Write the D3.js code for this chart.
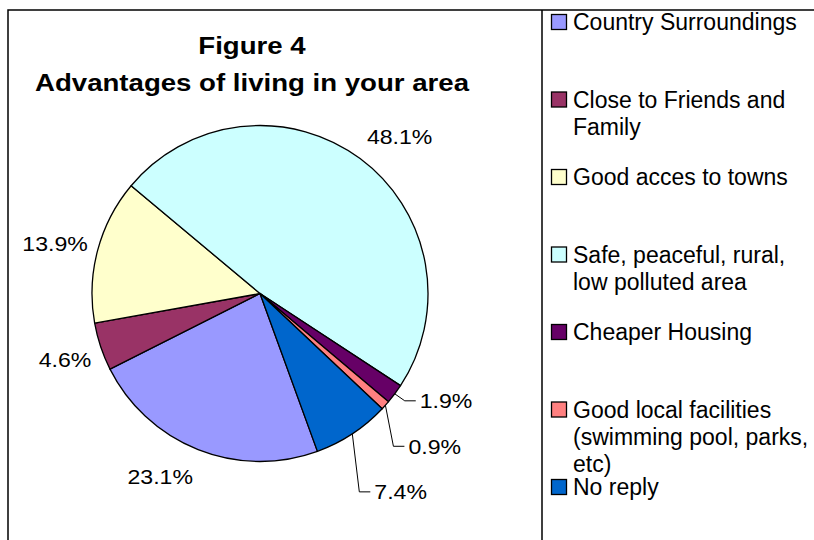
<!DOCTYPE html>
<html>
<head>
<meta charset="utf-8">
<script src="https://d3js.org/d3.v7.min.js"></script>
<style>
  body { margin: 0; background: #fff; }
  svg { display: block; font-family: "Liberation Sans", Arial, Helvetica, sans-serif; }
</style>
</head>
<body>
<div id="chart"></div>
<script>
// data
var categories = [
  "Country Surroundings",
  "Close to Friends and Family",
  "Good acces to towns",
  "Safe, peaceful, rural, low polluted area",
  "Cheaper Housing",
  "Good local facilities (swimming pool, parks, etc)",
  "No reply"
];
var values = [23.1, 4.6, 13.9, 48.1, 1.9, 0.9, 7.4];
var colors = ["#9999ff", "#993366", "#ffffcc", "#ccffff", "#660066", "#ff8080", "#0066cc"];
// how the legend wraps each entry
var legendLines = [
  ["Country Surroundings"],
  ["Close to Friends and", "Family"],
  ["Good acces to towns"],
  ["Safe, peaceful, rural,", "low polluted area"],
  ["Cheaper Housing"],
  ["Good local facilities", "(swimming pool, parks,", "etc)"],
  ["No reply"]
];
var titleLines = ["Figure 4", "Advantages of living in your area"];

// labels that were dragged away from the pie get a leader line (offset from slice edge)
var leaderOffset = {
  "Cheaper Housing": [25, 7],
  "Good local facilities (swimming pool, parks, etc)": [23, 41],
  "No reply": [22, 58]
};
// small manual tweaks on the other labels
var labelNudge = {
  "Country Surroundings": [-19, -1],
  "Close to Friends and Family": [7, 3],
  "Good acces to towns": [7, 1],
  "Safe, peaceful, rural, low polluted area": [9, 2]
};

var width = 814, height = 540,
    cx = 260, cy = 293.5, radius = 168;

var svg = d3.select("#chart").append("svg")
    .attr("width", width)
    .attr("height", height);

// frame lines
svg.append("path")
    .attr("d", "M8,540V10H814M542,10V540")
    .attr("fill", "none")
    .attr("stroke", "#000")
    .attr("stroke-width", 1.5);

// stretched text helper (the original fonts are wider than Liberation)
function stretchText(parent, x, y, str, size, sx, anchor, weight) {
  var g = parent.append("g").attr("transform", "translate(" + x + "," + y + ")");
  g.append("text")
      .attr("transform", "scale(" + sx + ",1)")
      .attr("text-anchor", anchor)
      .attr("font-size", size)
      .attr("font-weight", weight || "normal")
      .attr("fill", "#000")
      .text(str);
  return g;
}

// title
titleLines.forEach(function(t, i) {
  stretchText(svg, 252, 54 + i * 37, t, 24, 1.15, "middle", "bold");
});

var data = categories.map(function(c, i) { return { name: c, value: values[i], color: colors[i] }; });

var start = 160 * Math.PI / 180;
var pie = d3.pie()
    .sort(null)
    .value(function(d) { return d.value; })
    .startAngle(start)
    .endAngle(start + 2 * Math.PI);

var arc = d3.arc().innerRadius(0).outerRadius(radius);
var edgeArc = d3.arc().innerRadius(radius).outerRadius(radius);

var arcs = pie(data);

var g = svg.append("g").attr("transform", "translate(" + cx + "," + cy + ")");

g.selectAll("path.slice")
    .data(arcs)
  .enter().append("path")
    .attr("class", "slice")
    .attr("d", arc)
    .attr("fill", function(d) { return d.data.color; })
    .attr("stroke", "#000")
    .attr("stroke-width", 1.3)
    .attr("stroke-linejoin", "round");

// data labels
var labelFont = 21, labelSx = 1.1;
arcs.forEach(function(d) {
  var txt = d3.format(".1f")(d.data.value) + "%";
  var mid = (d.startAngle + d.endAngle) / 2;
  var off = leaderOffset[d.data.name];
  if (off) {
    var e = edgeArc.centroid(d);
    var lx = e[0] + off[0], ly = e[1] + off[1];
    g.append("path")
        .attr("d", "M" + e[0] + "," + e[1] + "L" + (lx - 15) + "," + ly + "H" + (lx - 4))
        .attr("fill", "none")
        .attr("stroke", "#000")
        .attr("stroke-width", 1);
    stretchText(g, lx, ly + 7.5, txt, labelFont, labelSx, "start");
  } else {
    // excel style: anchor just outside the rim, box pushed outward
    var r = radius + 20;
    var px = Math.sin(mid) * r, py = -Math.cos(mid) * r;
    var w = txt.length * 12.5;
    var nudge = labelNudge[d.data.name] || [0, 0];
    var lx2 = px + Math.sin(mid) * w / 2 + nudge[0],
        ly2 = py - Math.cos(mid) * 10 + nudge[1];
    stretchText(g, lx2, ly2 + 7.5, txt, labelFont, labelSx, "middle");
  }
});

// legend
var legendY = d3.scalePoint().domain(categories).range([22, 487]);
var legend = svg.append("g");
data.forEach(function(d, i) {
  var y = legendY(d.name);
  legend.append("rect")
      .attr("x", 551.5)
      .attr("y", y - 7.5)
      .attr("width", 15)
      .attr("height", 15)
      .attr("fill", d.color)
      .attr("stroke", "#000")
      .attr("stroke-width", 1.3);
  var t = legend.append("text")
      .attr("x", 573)
      .attr("y", y + 8)
      .attr("font-size", 23)
      .attr("fill", "#000");
  legendLines[i].forEach(function(line, j) {
    t.append("tspan")
        .attr("x", 573)
        .attr("dy", j === 0 ? 0 : 27)
        .text(line);
  });
});
</script>
</body>
</html>
